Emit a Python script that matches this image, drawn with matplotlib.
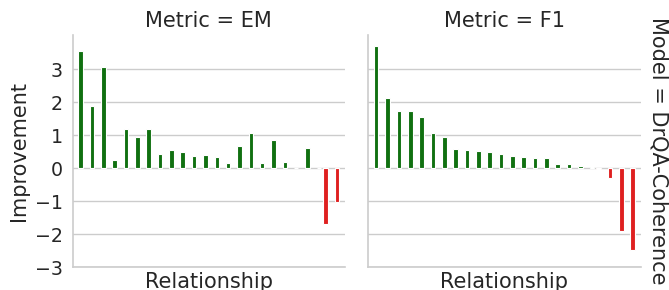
import numpy as np
import matplotlib
matplotlib.use("Agg")
import matplotlib.pyplot as plt

# 24 relationships, ordered by F1 improvement (labels hidden in the original)
relationship = np.arange(24)

em = [3.54, 1.88, 3.05, 0.25, 1.18, 0.94, 1.19, 0.42, 0.54, 0.49, 0.36, 0.40,
      0.34, 0.16, 0.66, 1.06, 0.17, 0.84, 0.20, 0.0, 0.61, 0.0, -1.68, -1.02]
f1 = [3.71, 2.13, 1.74, 1.74, 1.54, 1.06, 0.96, 0.59, 0.54, 0.52, 0.48, 0.42,
      0.38, 0.34, 0.32, 0.31, 0.13, 0.12, 0.08, 0.03, -0.03, -0.28, -1.90, -2.47]

metrics = ["EM", "F1"]
model = "DrQA-Coherence"

GREEN = "#107010"
RED = "#df2020"
TEXT = "#262626"
LIGHT = "#cccccc"

plt.rcParams["font.family"] = "DejaVu Sans"

fig = plt.figure(figsize=(6.69, 2.90), dpi=100)
ax1 = fig.add_axes([0.1087, 0.078, 0.407, 0.801])
ax2 = fig.add_axes([0.5505, 0.078, 0.407, 0.801], sharey=ax1)

for ax, vals, metric in zip([ax1, ax2], [em, f1], metrics):
    vals = np.array(vals)
    pos = vals >= 0
    # hue dodge: negatives on the left slot, positives on the right slot
    x = relationship + np.where(pos, 0.2, -0.2)
    ax.bar(x, vals, width=0.4, color=np.where(pos, GREEN, RED),
           edgecolor="white", linewidth=0.8, zorder=2)
    ax.set_xlim(-0.5, 23.5)
    ax.set_xticks([])
    ax.set_yticks(range(-3, 4))
    ax.yaxis.grid(True, color=LIGHT, linewidth=1.0, zorder=0)
    ax.set_axisbelow(True)
    for s in ["top", "right"]:
        ax.spines[s].set_visible(False)
    for s in ["left", "bottom"]:
        ax.spines[s].set_color(LIGHT)
        ax.spines[s].set_linewidth(1.2)
    ax.tick_params(axis="y", length=0, pad=7, labelsize=13.7, labelcolor=TEXT)
    ax.set_xlabel("Relationship", fontsize=15, color=TEXT, labelpad=3)
    ax.set_title("Metric = " + metric, fontsize=15, color=TEXT)

ax1.set_ylim(-3, 4.03)
ax1.set_ylabel("Improvement", fontsize=15, color=TEXT)
ax2.tick_params(axis="y", labelleft=False)

ax2.text(1.03, 0.5, "Model = " + model, transform=ax2.transAxes,
         rotation=270, ha="left", va="center", fontsize=15, color=TEXT)

fig.savefig("out.png", dpi=100)
